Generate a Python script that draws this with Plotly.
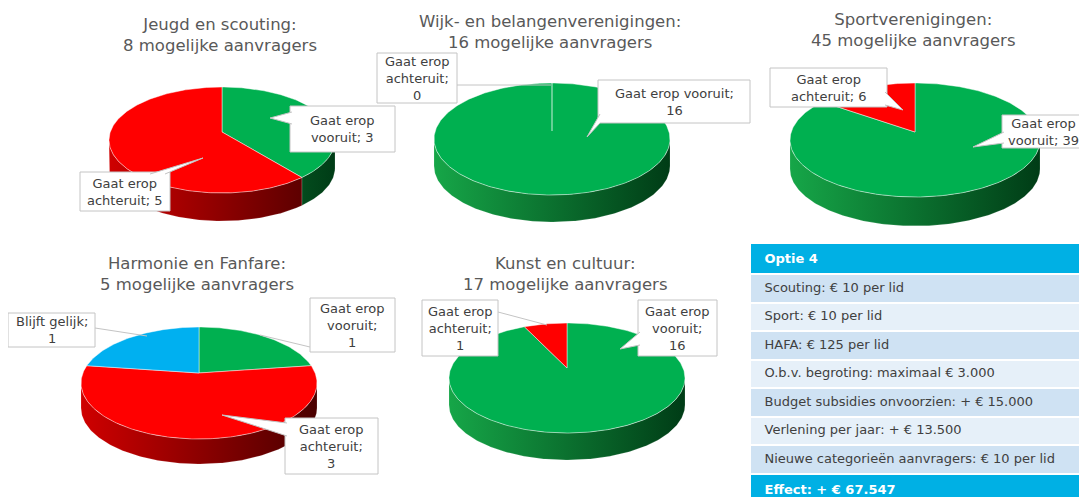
import numpy as np
import plotly.graph_objects as go

W, H = 1087, 497
OFF = 8  # page body margin compensation

# ---------------- data ----------------
labels = ["Gaat erop vooruit", "Gaat erop achteruit", "Blijft gelijk"]
groups = ["Jeugd en scouting", "Wijk- en belangenverenigingen", "Sportverenigingen",
          "Harmonie en Fanfare", "Kunst en cultuur"]
jeugd = [3, 5, 0]
wijk = [16, 0, 0]
sport = [39, 6, 0]
harmonie = [1, 3, 1]
kunst = [16, 1, 0]
series = [jeugd, wijk, sport, harmonie, kunst]

table_header = "Optie 4"
table_rows = ["Scouting: € 10 per lid", "Sport: € 10 per lid", "HAFA: € 125 per lid",
              "O.b.v. begroting: maximaal € 3.000", "Budget subsidies onvoorzien: + € 15.000",
              "Verlening per jaar: + € 13.500", "Nieuwe categorieën aanvragers: € 10 per lid"]
table_effect = "Effect: + € 67.547"

# ---------------- style ----------------
top_col = ["#00b050", "#ff0000", "#00b0f0"]
side_left = ["#16a648", "#cf0000", "#0096cc"]
side_right = ["#003c16", "#4a0000", "#003a58"]
FONT = "DejaVu Sans"
TXT = "#404040"

# pie placement: cx, cy, a, b, depth, vertex offset, title y
pies = [
    (222, 140, 113, 53, 28, 8, 35),
    (552, 139, 118, 56, 27, 8, 32),
    (915, 140, 125, 57, 29, 8, 30),
    (199, 383, 118, 56, 25, 10, 274),
    (567, 378, 118, 55, 27, 10, 274),
]

fig = go.Figure()


def arc(cx, cy, a, b, t0, t1):
    n = max(2, int(abs(t1 - t0) / np.radians(1)) + 2)
    t = np.linspace(t0, t1, n)
    return cx + a * np.sin(t), cy - b * np.cos(t)


for vals, name, (cx, cy, a, b, dep, dv, ty) in zip(series, groups, pies):
    total = sum(vals)
    bounds = np.concatenate([[0], np.cumsum(vals)]) / total * 2 * np.pi
    # sides (front half only: pi/2 .. 3pi/2)
    for i, v in enumerate(vals):
        if v == 0:
            continue
        lo = max(bounds[i], np.pi / 2)
        hi = min(bounds[i + 1], 3 * np.pi / 2)
        if lo >= hi:
            continue
        xt, yt = arc(cx, cy, a, b, lo, hi)
        xs = np.concatenate([xt, xt[::-1], [xt[0]]])
        ys = np.concatenate([yt, yt[::-1] + dep, [yt[0]]])
        fig.add_trace(go.Scatter(
            x=xs, y=ys, mode="lines", fill="toself",
            fillgradient=dict(type="horizontal", start=cx - a, stop=cx + a,
                              colorscale=[[0, side_left[i]], [1, side_right[i]]]),
            line=dict(width=0.6, color="rgba(255,255,255,0.25)"),
            hoverinfo="skip", showlegend=False))
    # top slices
    for i, v in enumerate(vals):
        if v == 0:
            continue
        xt, yt = arc(cx, cy, a, b, bounds[i], bounds[i + 1])
        xs = np.concatenate([[cx], xt, [cx]])
        ys = np.concatenate([[cy - dv], yt, [cy - dv]])
        fig.add_trace(go.Scatter(
            x=xs, y=ys, mode="lines", fill="toself", fillcolor=top_col[i],
            line=dict(width=1, color="rgba(255,255,255,0.45)"),
            name=labels[i], text=f"{labels[i]}; {v}", hoveron="fills",
            hoverinfo="text", showlegend=False))
    fig.add_annotation(x=cx - 2, y=ty, text=f"{name}:<br>{total} mogelijke aanvragers",
                       showarrow=False, font=dict(family=FONT, size=16.5, color="#595959"),
                       xanchor="center", yanchor="middle", align="center")


def fmt(label, v, style):
    w = label.split()
    if style == "A":
        return f"{' '.join(w[:2])}<br>{' '.join(w[2:])}; {v}"
    if style == "B":
        return f"{' '.join(w[:2])}<br>{' '.join(w[2:])};<br>{v}"
    return f"{label};<br>{v}"


# callouts: (pie index, slice index, style, box, tail) ; tail = ("w", b1, tip, b2) or ("l", p0, p1)
callouts = [
    (0, 0, "A", (290, 106, 395, 152), ("w", (292, 112), (270, 118), (292, 124))),
    (0, 1, "A", (80, 172, 170, 211), ("w", (150, 174), (203, 158), (165, 174))),
    (1, 1, "B", (377, 53, 457, 103), ("l", (457, 85), (551, 85))),
    (1, 0, "C", (598, 80, 750, 123), ("w", (600, 114), (587, 137), (600, 123))),
    (2, 1, "A", (770, 68, 887, 107), ("w", (885, 92), (903, 110), (885, 105))),
    (2, 0, "A", (1002, 115, 1085, 148), ("w", (1004, 132), (973, 147), (1004, 143))),
    (3, 2, "C", (8, 313, 95, 347), ("l", (95, 328), (147, 336))),
    (3, 0, "B", (310, 298, 395, 352), ("l", (310, 347), (260, 335))),
    (3, 1, "B", (285, 418, 378, 474), ("w", (287, 423), (222, 415), (287, 436))),
    (4, 1, "B", (422, 300, 498, 356), ("l", (498, 312), (547, 325))),
    (4, 0, "B", (638, 300, 717, 356), ("w", (640, 332), (620, 349), (640, 345))),
]

BORDER = "#c4c4c4"
for pi, si, style, (x0, y0, x1, y1), tail in callouts:
    if tail[0] == "l":
        fig.add_shape(type="line", x0=tail[1][0], y0=tail[1][1], x1=tail[2][0], y1=tail[2][1],
                      line=dict(color=BORDER, width=1), layer="above")
    fig.add_shape(type="rect", x0=x0, y0=y0, x1=x1, y1=y1, fillcolor="white",
                  line=dict(color=BORDER, width=1), layer="above")
    if tail[0] == "w":
        (bx1, by1), (tx, tyy), (bx2, by2) = tail[1], tail[2], tail[3]
        fig.add_shape(type="path", path=f"M {bx1} {by1} L {tx} {tyy} L {bx2} {by2} Z",
                      fillcolor="white", line=dict(width=0), layer="above")
        fig.add_shape(type="path", path=f"M {bx1} {by1} L {tx} {tyy} L {bx2} {by2}",
                      line=dict(color=BORDER, width=1), layer="above")
    fig.add_annotation(x=(x0 + x1) / 2, y=(y0 + y1) / 2,
                       text=fmt(labels[si], series[pi][si], style), showarrow=False,
                       font=dict(family=FONT, size=13, color=TXT), align="center",
                       xanchor="center", yanchor="middle")

# ---------------- table ----------------
FW, FH = W - OFF, H - OFF
pad = "\u2002"
row_fill = ["#cfe2f3" if i % 2 == 0 else "#e6f0f9" for i in range(len(table_rows))] + ["#00b0e4"]
row_font = [TXT] * len(table_rows) + ["white"]
fig.add_trace(go.Table(
    domain=dict(x=[(750 - OFF) / FW, (1083 - OFF) / FW], y=[0, 1 - (243 - OFF) / FH]),
    columnwidth=[1],
    header=dict(values=[f"{pad}<b>{table_header}</b>"], fill_color="#00b0e4",
                font=dict(family=FONT, size=13, color="white"), align="left", height=27,
                line=dict(color="white", width=2)),
    cells=dict(values=[[pad + r for r in table_rows] + [f"{pad}<b>{table_effect}</b>"]],
               fill_color=[row_fill],
               font=dict(family=FONT, size=13, color=[row_font]), align="left", height=28.5,
               line=dict(color="white", width=2)),
))

fig.update_layout(
    width=FW, height=FH, margin=dict(l=0, r=0, t=0, b=0),
    paper_bgcolor="white", plot_bgcolor="white",
    xaxis=dict(range=[OFF, W], visible=False, fixedrange=True),
    yaxis=dict(range=[H, OFF], visible=False, fixedrange=True),
    showlegend=False,
)
fig.write_html("out.html")
